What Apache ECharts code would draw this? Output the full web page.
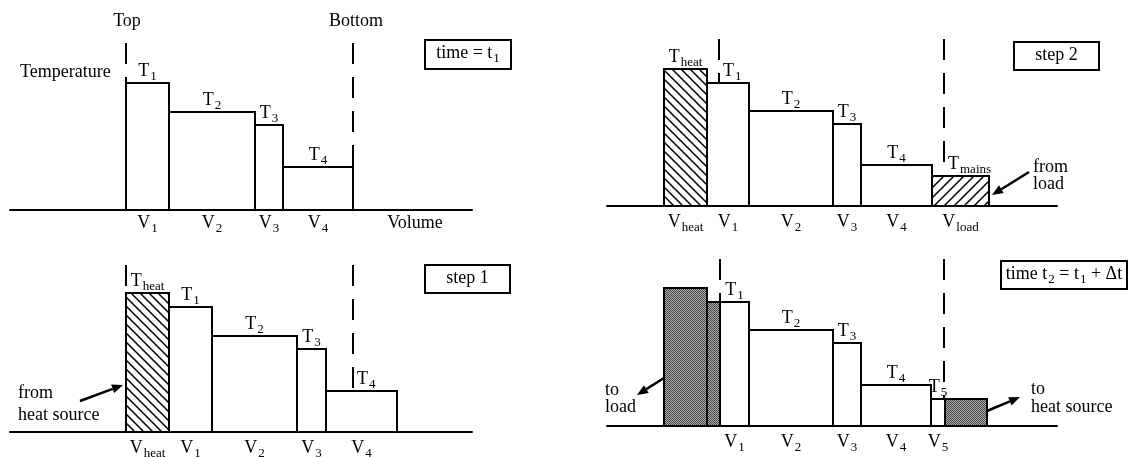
<!DOCTYPE html>
<html>
<head>
<meta charset="utf-8">
<script src="https://cdn.jsdelivr.net/npm/echarts@6/dist/echarts.min.js"></script>
<style>
  html, body { margin: 0; padding: 0; background: #fff; }
  #chart { width: 1131px; height: 457px; }
</style>
</head>
<body>
<div id="chart"></div>
<script>
// ---- Layer data for the four stages of the stratified-tank update ----
// Volumes and temperatures are in arbitrary (schematic) units.

// time = t1 : the tank alone
const t1TempSub = ['1', '2', '3', '4'];
const t1VolSub  = ['1', '2', '3', '4'];
const t1Vol     = [43, 86, 28, 70];
const t1Temp    = [127, 98, 85, 43];
const t1Kind    = ['tank', 'tank', 'tank', 'tank'];
const t1Bounds  = [0, 227];              // tank top / bottom (volume units)

// step 1 : heated volume enters at the top
const s1TempSub = ['heat', '1', '2', '3', '4'];
const s1VolSub  = ['heat', '1', '2', '3', '4'];
const s1Vol     = [43, 43, 85, 29, 71];
const s1Temp    = [139, 125, 96, 83, 41];
const s1Kind    = ['heat', 'tank', 'tank', 'tank', 'tank'];
const s1Bounds  = [0, 227];

// step 2 : mains water from the load enters at the bottom
const s2TempSub = ['heat', '1', '2', '3', '4', 'mains'];
const s2VolSub  = ['heat', '1', '2', '3', '4', 'load'];
const s2Vol     = [43, 42, 84, 28, 71, 57];
const s2Temp    = [137, 123, 95, 82, 41, 30];
const s2Kind    = ['heat', 'tank', 'tank', 'tank', 'tank', 'mains'];
const s2Bounds  = [55, 280];

// time t2 = t1 + dt : volumes pushed out at both ends
const t2TempSub = ['', '', '1', '2', '3', '4', '5', ''];
const t2VolSub  = ['', '', '1', '2', '3', '4', '5', ''];
const t2Vol     = [43, 13, 29, 84, 28, 70, 14, 42];
const t2Temp    = [138, 124, 124, 96, 83, 41, 27, 27];
const t2Kind    = ['out', 'out', 'tank', 'tank', 'tank', 'tank', 'tank', 'out'];
const t2Bounds  = [56, 280];

const t1BoundNames = ['Top', 'Bottom'];

// ---- drawing helpers ----
const FONT = '"Liberation Serif", "Times New Roman", Times, serif';
const RICH = {
  m: { fontFamily: FONT, fontSize: 18, fill: '#000' },
  s: { fontFamily: FONT, fontSize: 13, fill: '#000', padding: [11, 0, 0, 1] }
};
function rt(main, sub) { return '{m|' + main + '}' + (sub ? '{s|' + sub + '}' : ''); }

function hatchCanvas(forward, step, lw) {
  const c = document.createElement('canvas');
  c.width = step; c.height = step;
  const g = c.getContext('2d');
  g.fillStyle = '#fff'; g.fillRect(0, 0, step, step);
  g.strokeStyle = '#000'; g.lineWidth = lw;
  g.beginPath();
  if (forward) {
    g.moveTo(-1, step + 1); g.lineTo(step + 1, -1);
    g.moveTo(-2, 2); g.lineTo(2, -2);
    g.moveTo(step - 2, step + 2); g.lineTo(step + 2, step - 2);
  } else {
    g.moveTo(-1, -1); g.lineTo(step + 1, step + 1);
    g.moveTo(step - 2, -2); g.lineTo(step + 2, 2);
    g.moveTo(-2, step - 2); g.lineTo(2, step + 2);
  }
  g.stroke();
  return c;
}
function stippleCanvas() {
  const c = document.createElement('canvas');
  c.width = 2; c.height = 2;
  const g = c.getContext('2d');
  g.fillStyle = '#a9a9a9'; g.fillRect(0, 0, 2, 2);
  g.fillStyle = '#4a4a4a'; g.fillRect(0, 0, 1, 1); g.fillRect(1, 1, 1, 1);
  return c;
}
const FILLS = {
  tank:  '#fff',
  heat:  { image: hatchCanvas(false, 9, 1.5), repeat: 'repeat' },
  mains: { image: hatchCanvas(true, 10, 1.5), repeat: 'repeat' },
  out:   { image: stippleCanvas(), repeat: 'repeat' }
};

const DASH_TOP = 167;   // upper end of the tank boundary markers (temperature units)

// Panel layout: plot areas of the four small diagrams
const GRIDS = [
  { left: 10,  top: 10,  width: 462, height: 200, xMin: -116, xMax: 346 },
  { left: 607, top: 6,   width: 450, height: 200, xMin: -57,  xMax: 393 },
  { left: 10,  top: 232, width: 462, height: 200, xMin: -116, xMax: 346 },
  { left: 607, top: 226, width: 450, height: 200, xMin: -57,  xMax: 393 }
];

const PANELS = [
  { vol: t1Vol, temp: t1Temp, kind: t1Kind, tSub: t1TempSub, vSub: t1VolSub, bounds: t1Bounds, names: t1BoundNames, vOff: 13 },
  { vol: s2Vol, temp: s2Temp, kind: s2Kind, tSub: s2TempSub, vSub: s2VolSub, bounds: s2Bounds, names: [], vOff: 16 },
  { vol: s1Vol, temp: s1Temp, kind: s1Kind, tSub: s1TempSub, vSub: s1VolSub, bounds: s1Bounds, names: [], vOff: 16 },
  { vol: t2Vol, temp: t2Temp, kind: t2Kind, tSub: t2TempSub, vSub: t2VolSub, bounds: t2Bounds, names: [], vOff: 16 }
];

function blocksOf(p) {
  const out = [];
  let x = 0;
  p.vol.forEach(function (v, i) { out.push([x, x + v, p.temp[i], i]); x += v; });
  return out;
}

function blockSeries(gi, p) {
  return {
    type: 'custom', xAxisIndex: gi, yAxisIndex: gi, clip: false, silent: true, z: 2,
    data: blocksOf(p),
    renderItem: function (params, api) {
      const i = api.value(3);
      const x0 = api.value(0), x1 = api.value(1), t = api.value(2);
      const a = api.coord([x0, t]);
      const b = api.coord([x1, 0]);
      const kids = [{
        type: 'rect',
        shape: { x: a[0], y: a[1], width: b[0] - a[0], height: b[1] - a[1] },
        style: { fill: FILLS[p.kind[i]], stroke: '#000', lineWidth: 2 }
      }];
      if (p.tSub[i]) {
        const inner = p.bounds.find(function (bd) { return bd > x0 + 1 && bd < x1 - 1; });
        let lx = (a[0] + b[0]) / 2, align = 'center';
        if (inner !== undefined) { lx = api.coord([inner, 0])[0] + 4; align = 'left'; }
        kids.push({
          type: 'text', x: lx, y: a[1] - 12,
          style: { text: rt('T', p.tSub[i]), rich: RICH, fontFamily: FONT, fontSize: 18, align: align, verticalAlign: 'middle' }
        });
      }
      if (p.vSub[i]) {
        kids.push({
          type: 'text', x: (a[0] + b[0]) / 2, y: b[1] + p.vOff,
          style: { text: rt('V', p.vSub[i]), rich: RICH, fontFamily: FONT, fontSize: 18, align: 'center', verticalAlign: 'middle' }
        });
      }
      return { type: 'group', children: kids };
    }
  };
}

function boundarySeries(gi, p) {
  const blocks = blocksOf(p);
  const data = p.bounds.map(function (bd, k) {
    let top = 0;
    blocks.forEach(function (bl) { if (bd >= bl[0] - 0.5 && bd <= bl[1] + 0.5) top = Math.max(top, bl[2]); });
    return [bd, top, k];
  });
  return {
    type: 'custom', xAxisIndex: gi, yAxisIndex: gi, clip: false, silent: true, z: 3,
    data: data,
    renderItem: function (params, api) {
      const x = api.value(0);
      const a = api.coord([x, DASH_TOP]);
      const b = api.coord([x, api.value(1)]);
      const kids = [{
        type: 'line',
        shape: { x1: a[0], y1: a[1], x2: b[0], y2: b[1] },
        style: { stroke: '#000', lineWidth: 2, lineDash: [21, 13] }
      }];
      const nm = p.names[api.value(2)];
      if (nm) {
        kids.push({
          type: 'text', x: a[0] + (api.value(2) ? 3 : 1), y: a[1] - 22,
          style: { text: nm, fontFamily: FONT, fontSize: 18, fill: '#000', align: 'center', verticalAlign: 'middle' }
        });
      }
      return { type: 'group', children: kids };
    }
  };
}

function arrow(x1, y1, x2, y2) {
  const ang = Math.atan2(y2 - y1, x2 - x1);
  const L = 11, W = 4.5;
  const bx = x2 - L * Math.cos(ang), by = y2 - L * Math.sin(ang);
  const nx = -Math.sin(ang) * W, ny = Math.cos(ang) * W;
  return [
    { type: 'line', shape: { x1: x1, y1: y1, x2: bx, y2: by }, style: { stroke: '#000', lineWidth: 2.5 } },
    { type: 'polygon', shape: { points: [[x2, y2], [bx + nx, by + ny], [bx - nx, by - ny]] }, style: { fill: '#000' } }
  ];
}
function box(x, y, w, h, text) {
  return [
    { type: 'rect', shape: { x: x, y: y, width: w, height: h }, style: { fill: '#fff', stroke: '#000', lineWidth: 2 } },
    { type: 'text', x: x + w / 2, y: y + h / 2 - 1,
      style: { text: text, rich: RICH, fontFamily: FONT, fontSize: 18, align: 'center', verticalAlign: 'middle' } }
  ];
}
function note(x, y, text) {
  return { type: 'text', x: x, y: y,
    style: { text: text, fontFamily: FONT, fontSize: 18, fill: '#000', align: 'left', verticalAlign: 'middle' } };
}

const series = [];
PANELS.forEach(function (p, gi) {
  series.push(blockSeries(gi, p));
  series.push(boundarySeries(gi, p));
});

const graphic = [].concat(
  box(425, 40, 86, 29, rt('time = t', '1')),
  box(1014, 42, 85, 28, '{m|step 2}'),
  box(425, 265, 85, 28, '{m|step 1}'),
  box(1001, 261, 126, 28, rt('time t', '2') + '{m| = t}{s|1}{m| + Δt}'),
  [note(20, 72, 'Temperature')],
  [{ type: 'text', x: 415, y: 223, style: { text: 'Volume', fontFamily: FONT, fontSize: 18, fill: '#000', align: 'center', verticalAlign: 'middle' } }],
  [note(1033, 167, 'from'), note(1033, 184, 'load')],
  arrow(1029, 172, 992, 195),
  [note(18, 393, 'from'), note(18, 415, 'heat source')],
  arrow(80, 401, 123, 385),
  [note(605, 390, 'to'), note(605, 407, 'load')],
  arrow(664, 378, 637, 395),
  [note(1031, 389, 'to'), note(1031, 407, 'heat source')],
  arrow(987, 411, 1020, 397)
);

const chart = echarts.init(document.getElementById('chart'), null, { renderer: 'canvas' });
chart.setOption({
  backgroundColor: '#fff',
  animation: false,
  grid: GRIDS.map(function (g) { return { left: g.left, top: g.top, width: g.width, height: g.height }; }),
  xAxis: GRIDS.map(function (g, i) {
    return {
      type: 'value', gridIndex: i, min: g.xMin, max: g.xMax,
      axisLine: { show: true, onZero: false, lineStyle: { color: '#000', width: 2 } },
      axisTick: { show: false }, axisLabel: { show: false }, splitLine: { show: false }
    };
  }),
  yAxis: GRIDS.map(function (g, i) {
    return { type: 'value', gridIndex: i, min: 0, max: 200, show: false, splitLine: { show: false } };
  }),
  series: series,
  graphic: graphic
});
</script>
</body>
</html>
